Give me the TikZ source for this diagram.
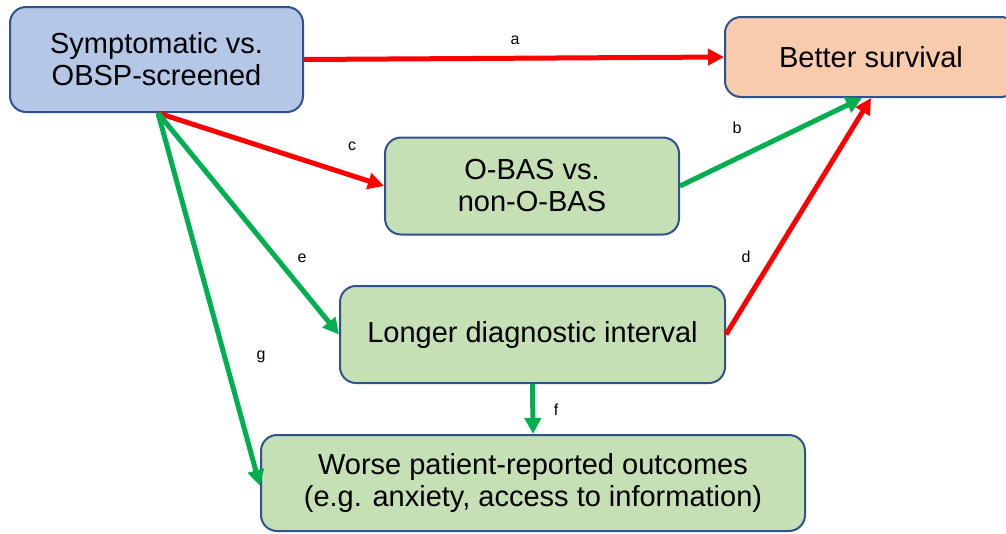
\documentclass[tikz,border=0pt]{standalone}
\usepackage{fontspec}
\setmainfont{Liberation Sans}
\usetikzlibrary{arrows.meta}
\definecolor{bluefill}{HTML}{B4C7E7}
\definecolor{boxborder}{HTML}{2F528F}
\definecolor{greenfill}{HTML}{C5E0B4}
\definecolor{peachfill}{HTML}{F8CBAD}
\definecolor{arrred}{HTML}{FF0000}
\definecolor{arrgreen}{HTML}{00B050}
\tikzset{
  box/.style={draw=boxborder, line width=2pt, rounded corners=16pt, inner sep=0pt,
    align=center, font=\fontsize{29}{32}\selectfont},
  redarr/.style={draw=arrred, line width=5pt, -{Triangle[length=16pt,width=16pt]}},
  greenarr/.style={draw=arrgreen, line width=5pt, -{Triangle[length=16pt,width=16pt]}},
  lbl/.style={font=\fontsize{16}{18}\selectfont, inner sep=0pt}
}
\begin{document}
\begin{tikzpicture}[x=1pt,y=-1pt]
\useasboundingbox (0,0) rectangle (1006,533);
\node[box, fill=bluefill, minimum width=293pt, minimum height=105pt] (sym) at (156.5,59.5) {Symptomatic vs.\\OBSP-screened};
\node[box, fill=peachfill, minimum width=292pt, minimum height=80pt] (surv) at (871,57) {Better survival};
\node[box, fill=greenfill, minimum width=294pt, minimum height=97pt] (obas) at (532,186) {O-BAS vs.\\non-O-BAS};
\node[box, fill=greenfill, minimum width=385pt, minimum height=97pt] (longer) at (532.5,334.5) {Longer diagnostic interval};
\node[box, fill=greenfill, minimum width=544pt, minimum height=96pt] (worse) at (533,483) {Worse patient-reported outcomes\\(e.g. anxiety, access to information)};

\coordinate (src) at ([xshift=1.5pt]sym.south);
\coordinate (btip) at ([xshift=-9pt]surv.south);
\coordinate (gtip) at ([yshift=-3pt]worse.west);

\draw[redarr] (sym.east) -- (surv.west);
\draw[greenarr] (obas.east) -- (btip);
\draw[redarr] (src) -- (obas.west);
\draw[redarr] (longer.east) -- (surv.south);
\draw[greenarr] (src) -- (longer.west);
\draw[greenarr] (longer.south) -- (worse.north);
\draw[greenarr] (src) -- (gtip);

\node[lbl] (la) at (515,40) {a};
\node[lbl] (lb) at (737,128) {b};
\node[lbl] (lc) at (352,146) {c};
\node[lbl] (ld) at (746,257) {d};
\node[lbl] (le) at (302,258) {e};
\node[lbl] (lf) at (556,410) {f};
\node[lbl] (lg) at (261,357) {g};
\end{tikzpicture}
\end{document}
